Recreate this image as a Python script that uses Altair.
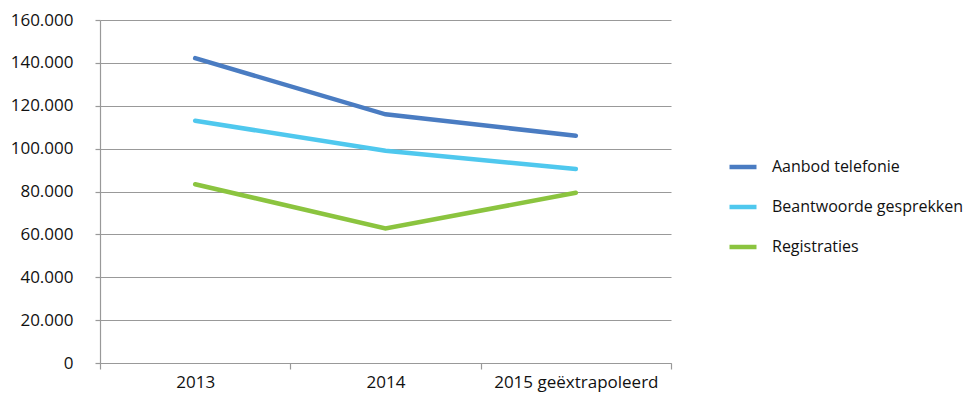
import altair as alt
import pandas as pd

years = ["2013", "2014", "2015 geëxtrapoleerd"]
series_names = ["Aanbod telefonie", "Beantwoorde gesprekken", "Registraties"]
aanbod = [142200, 116000, 106000]
beantwoord = [113000, 99000, 90500]
registraties = [83400, 62800, 79400]
colors = ["#4A7CC2", "#4FC8EE", "#8BC43F"]

rows = []
for name, vals in zip(series_names, [aanbod, beantwoord, registraties]):
    for y, v in zip(years, vals):
        rows.append({"Jaar": y, "Serie": name, "Aantal": v})
df = pd.DataFrame(rows)

font = "Open Sans"

chart = alt.Chart(df).mark_line(strokeWidth=4.5, strokeCap="round").encode(
    x=alt.X("Jaar:N", sort=years, title=None,
            scale=alt.Scale(type="band", paddingInner=0, paddingOuter=0),
            axis=alt.Axis(labelAngle=0, tickBand="extent", grid=False,
                          domainColor="#999999", tickColor="#999999",
                          tickSize=6, labelPadding=5, labelFontSize=17,
                          labelColor="#111111", labelFont=font,
                          domainWidth=1.2, tickWidth=1.2)),
    y=alt.Y("Aantal:Q", title=None,
            scale=alt.Scale(domain=[0, 160000], nice=False),
            axis=alt.Axis(values=list(range(0, 160001, 20000)),
                          labelExpr="replace(format(datum.value, ','), ',', '.')",
                          grid=True, gridColor="#999999", gridWidth=1.2,
                          domainColor="#999999", domainWidth=1.2,
                          tickColor="#999999", tickSize=5, tickWidth=1.2,
                          labelPadding=22, labelFontSize=17,
                          labelColor="#111111", labelFont=font)),
    color=alt.Color("Serie:N", sort=series_names, title=None,
                    scale=alt.Scale(domain=series_names, range=colors),
                    legend=alt.Legend(orient="none", legendX=627, legendY=131,
                                      symbolType="stroke", symbolSize=729,
                                      symbolStrokeWidth=4.5, labelOffset=13,
                                      labelFontSize=16, labelFont=font,
                                      labelLimit=0,
                                      labelColor="#111111", rowPadding=15)),
).properties(
    width=571, height=343,
    autosize=alt.AutoSizeParams(type="none"),
    padding={"left": 92, "top": 12, "right": 300, "bottom": 29},
).configure_view(stroke=None)

chart.save("out.html", embed_options={"renderer": "svg", "actions": False})
